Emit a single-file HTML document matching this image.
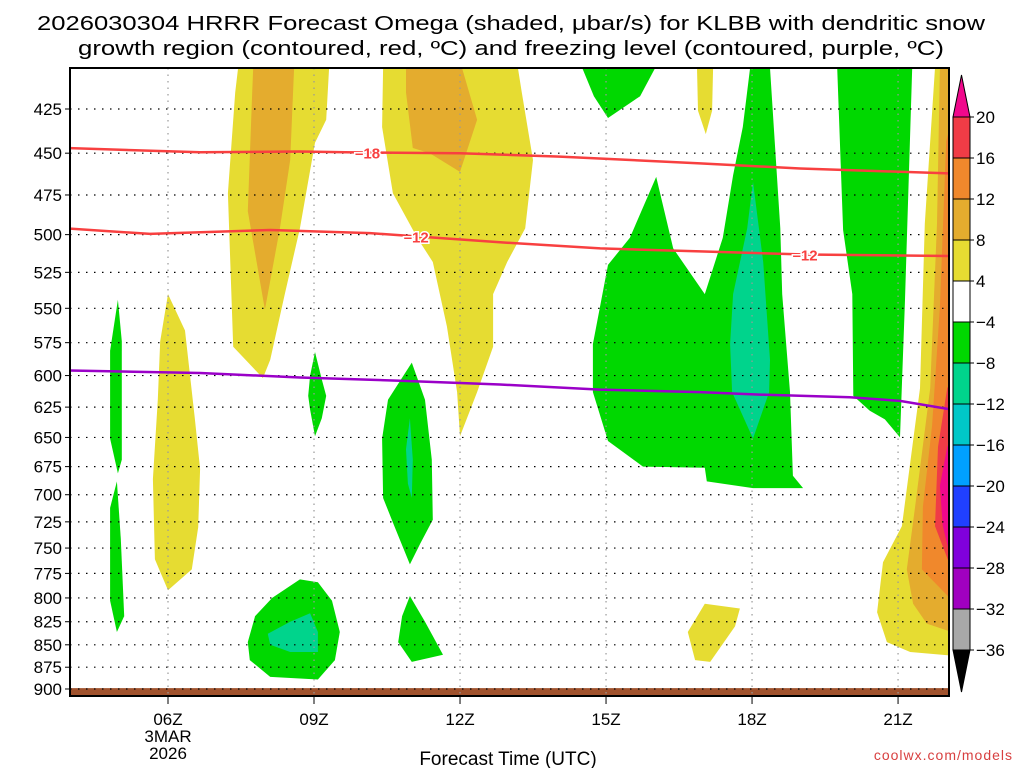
<!DOCTYPE html>
<html><head><meta charset="utf-8"><style>
html,body{margin:0;padding:0;background:#fff;}
svg{display:block;font-family:"Liberation Sans",sans-serif;}
</style></head><body>
<svg id="chart" width="1024" height="768" viewBox="0 0 1024 768" xmlns="http://www.w3.org/2000/svg">
<defs><clipPath id="plotclip"><rect x="70" y="68" width="879" height="628"/></clipPath></defs>
<rect x="0" y="0" width="1024" height="768" fill="#fff"/>
<text x="511" y="30" font-size="20" text-anchor="middle" textLength="948" lengthAdjust="spacingAndGlyphs">2026030304 HRRR Forecast Omega (shaded, μbar/s) for KLBB with dendritic snow</text>
<text x="511" y="55" font-size="20" text-anchor="middle" textLength="866" lengthAdjust="spacingAndGlyphs">growth region (contoured, red, ºC) and freezing level (contoured, purple, ºC)</text>
<g id="shades" clip-path="url(#plotclip)"></g>
<g id="grid"></g>
<g id="contours" clip-path="url(#plotclip)"></g>
<rect x="70" y="68" width="879" height="628" fill="none" stroke="#000" stroke-width="2"/>
<g id="axes"></g>
<g id="cbar"></g>
<text x="508" y="765" font-size="19" text-anchor="middle">Forecast Time (UTC)</text>
<text x="1013" y="760" font-size="14" fill="#d84040" text-anchor="end" letter-spacing="1">coolwx.com/models</text>
</svg>
<script>
const pressureTicks=[425,450,475,500,525,550,575,600,625,650,675,700,725,750,775,800,825,850,875,900];
const timeTicks=[6,9,12,15,18,21];
const timeLabels=["06Z","09Z","12Z","15Z","18Z","21Z"];
const cbarLevels=[20,16,12,8,4,-4,-8,-12,-16,-20,-24,-28,-32,-36];
const cbarColors=["#f03c46","#f0882c","#e4ac2e","#e6dc32","#ffffff","#00d800","#00d48c","#00c8c8","#00a0ff","#2040ff","#8000dc","#a000c0","#a8a8a8"];
// shaded omega regions: [hour, hPa]
const yellowA=[[7.44,403],[9.31,403],[9.25,431],[9.02,444],[8.71,496],[8.40,540],[8.10,588],[7.95,602],[7.34,578],[7.23,474],[7.38,416]];
const orangeA=[[7.75,403],[8.59,403],[8.51,454],[8.30,496],[7.99,551],[7.64,485],[7.73,416]];
const yellowB=[[10.42,403],[13.19,403],[13.27,416],[13.50,454],[13.34,496],[12.97,518],[12.68,540],[12.68,578],[12.35,613],[12.0,649],[11.94,613],[11.73,563],[11.44,518],[11.12,502],[10.62,474],[10.40,435]];
const orangeB=[[10.89,403],[12.04,403],[12.35,431],[12.0,461],[11.38,450],[11.03,447],[10.89,416]];
const green9=[[9.02,582],[9.16,603],[9.25,616],[9.16,634],[9.02,649],[8.92,627],[8.88,616],[8.92,600]];
const greenC=[[11.01,590],[11.28,619],[11.42,669],[11.44,723],[11.18,746],[10.97,766],[10.66,730],[10.42,703],[10.40,651],[10.52,619]];
const tealC=[[10.97,634],[11.03,669],[11.01,703],[10.93,690],[10.89,660]];
const yellowD=[[6.0,540],[6.35,566],[6.55,634],[6.66,677],[6.62,730],[6.49,771],[6.0,792],[5.73,761],[5.69,686],[5.79,619],[5.84,574]];
const greenE1=[[4.97,544],[5.05,574],[5.05,669],[4.97,681],[4.81,651],[4.81,581]];
const greenE2=[[4.95,688],[5.03,741],[5.10,819],[4.95,836],[4.81,803],[4.81,712]];
const greenF=[[8.71,781],[9.08,784],[9.37,803],[9.53,836],[9.43,867],[9.08,889],[8.10,886],[7.68,867],[7.64,847],[7.79,819],[8.14,800]];
const tealF=[[8.92,816],[9.08,836],[9.08,858],[8.51,858],[8.10,850],[8.05,838],[8.51,825]];
const greenG=[[10.97,798],[11.28,825],[11.65,861],[11.01,869],[10.73,847],[10.81,819]];
const greenH=[[14.51,403],[16.01,403],[15.70,418],[15.04,430],[14.75,418]];
const yellowT=[[16.87,403],[17.20,403],[17.18,426],[17.05,439],[16.89,426]];
const greenI=[[17.96,403],[18.37,403],[18.58,496],[18.62,540],[18.78,613],[18.84,683],[19.05,694],[18.02,694],[17.07,688],[17.03,676],[15.76,675],[15.04,653],[14.73,613],[14.73,576],[15.04,520],[15.49,502],[16.03,464],[16.38,509],[17.03,540],[17.40,502],[17.61,463],[17.81,435]];
const tealI=[[18.02,467],[18.23,518],[18.37,588],[18.35,613],[18.02,651],[17.59,613],[17.55,576],[17.61,540],[17.90,496]];
const yellowBot=[[17.03,806],[17.75,811],[17.65,830],[17.14,869],[16.83,867],[16.68,836]];
const greenJ=[[19.75,403],[21.29,403],[21.14,546],[21.04,650],[20.73,635],[20.42,628],[20.08,616],[20.06,540],[19.87,497]];
const yellowK=[[21.76,403],[22.1,403],[22.1,862],[21.25,858],[20.77,847],[20.57,815],[20.69,764],[21.08,729],[21.45,610],[21.55,493]];
const lorangeK=[[21.86,403],[22.1,403],[22.1,836],[21.59,827],[21.31,806],[21.18,771],[21.35,711],[21.66,610],[21.80,493]];
const orangeK=[[22.1,431],[21.99,443],[21.86,549],[21.70,640],[21.51,711],[21.49,771],[22.1,802]];
const redK=[[22.1,603],[22.01,610],[21.82,658],[21.76,729],[22.1,771]];
const magK=[[22.1,651],[22.01,658],[21.86,692],[21.92,729],[22.1,764]];
// contours
const t18Hours=[3.9,6.66,8.71,9.64,12.0,14.05,16.93,18.99,22.1];
const t18Press=[447,449.5,449,449.5,450,452,456,459,462];
const t12Hours=[3.9,5.63,8.10,10.15,12.82,14.88,16.93,19.09,22.1];
const t12Press=[496,499.5,497,499,505,509,511,513,514];
const frzHours=[3.9,6.66,8.71,10.77,12.82,14.88,16.93,18.16,20.01,21.04,22.1];
const frzPress=[596,598,601.5,604,607,611,613,615,617,620,627];
const contourLabels=[["-18",10.1,"t18"],["-12",11.1,"t12"],["-12",19.09,"t12"]];

const NS="http://www.w3.org/2000/svg";
function X(h){return 168+(h-6)*48.67;}
function Y(p){return 109+773*Math.log(p/425);}
function mk(tag,attrs,parent){const e=document.createElementNS(NS,tag);for(const k in attrs)e.setAttribute(k,attrs[k]);parent.appendChild(e);return e;}
const shades=document.getElementById('shades');
const polys=[
 [yellowA,"#e6dc32","yellow-plume-a"],[orangeA,"#e4ac2e","orange-plume-a"],
 [yellowB,"#e6dc32","yellow-plume-b"],[orangeB,"#e4ac2e","orange-plume-b"],
 [green9,"#00d800","green-cell-09z"],[greenC,"#00d800","green-cell-11z"],[tealC,"#00d48c","teal-cell-11z"],
 [yellowD,"#e6dc32","yellow-plume-06z"],[greenE1,"#00d800","green-strip-upper"],[greenE2,"#00d800","green-strip-lower"],
 [greenF,"#00d800","green-cell-low-08z"],[tealF,"#00d48c","teal-cell-low-08z"],[greenG,"#00d800","green-cell-low-11z"],
 [greenH,"#00d800","green-top-15z"],[yellowT,"#e6dc32","yellow-top-17z"],[greenI,"#00d800","green-region-16z-18z"],
 [tealI,"#00d48c","teal-region-18z"],[yellowBot,"#e6dc32","yellow-low-17z"],[greenJ,"#00d800","green-region-20z"],
 [yellowK,"#e6dc32","yellow-region-22z"],[lorangeK,"#e4ac2e","light-orange-region-22z"],[orangeK,"#f0882c","orange-region-22z"],
 [redK,"#f03c46","red-region-22z"],[magK,"#f0088c","magenta-region-22z"]];
polys.forEach(([pts,col,name])=>{
 const e=mk('polygon',{points:pts.map(q=>X(q[0]).toFixed(1)+","+Y(q[1]).toFixed(1)).join(" "),fill:col},shades);
 
 
});
const ground=mk('rect',{x:70,y:Y(899),width:879,height:696-Y(899),fill:"#a0522d"},shades);



const grid=document.getElementById('grid'), axes=document.getElementById('axes');
pressureTicks.forEach(p=>{
 const y=Y(p);
 const g=mk('line',{x1:70,x2:949,y1:y,y2:y,stroke:"#000","stroke-width":1.2,"stroke-dasharray":"1.5 6.5"},grid);
 
 
 mk('line',{x1:65,x2:70,y1:y,y2:y,stroke:"#000","stroke-width":1},axes);
 const t=mk('text',{x:62,y:y+6,"font-size":17,"text-anchor":"end"},axes);
 t.textContent=p;
 
 
});
timeTicks.forEach((h,i)=>{
 const x=X(h);
 const g=mk('line',{x1:x,x2:x,y1:68,y2:696,stroke:"#999","stroke-width":1.2,"stroke-dasharray":"1.5 5"},grid);
 
 
 mk('line',{x1:x,x2:x,y1:696,y2:704,stroke:"#000","stroke-width":1},axes);
 const t=mk('text',{x:x,y:725,"font-size":17,"text-anchor":"middle"},axes);
 t.textContent=timeLabels[i];
 
 
});
const d1=mk('text',{x:X(6),y:742,"font-size":17,"text-anchor":"middle"},axes);d1.textContent="3MAR";


const d2=mk('text',{x:X(6),y:759,"font-size":17,"text-anchor":"middle"},axes);d2.textContent="2026";



const cont=document.getElementById('contours');
function line(hs,ps,col,name){
 const e=mk('polyline',{points:hs.map((h,i)=>X(h).toFixed(1)+","+Y(ps[i]).toFixed(1)).join(" "),fill:"none",stroke:col,"stroke-width":2.5},cont);
 
 
}
function interp(hs,ps,h){for(let i=0;i<hs.length-1;i++){if(h>=hs[i]&&h<=hs[i+1]){const f=(h-hs[i])/(hs[i+1]-hs[i]);return ps[i]+f*(ps[i+1]-ps[i]);}}return ps[0];}
line(t18Hours,t18Press,"#f84040","contour-minus18");
line(t12Hours,t12Press,"#f84040","contour-minus12");
line(frzHours,frzPress,"#9a00c8","freezing-level-line");
contourLabels.forEach(([lab,h,which])=>{
 const p=which==="t18"?interp(t18Hours,t18Press,h):interp(t12Hours,t12Press,h);
 const x=X(h),y=Y(p);
 mk('rect',{x:x-16,y:y-8,width:32,height:16,fill:"#fff","fill-opacity":0},cont);
 const t=mk('text',{x:x,y:y+6,"font-size":15,"font-weight":"bold",fill:"#f84040","text-anchor":"middle",stroke:"#fff","stroke-width":3,"paint-order":"stroke"},cont);
 t.textContent="\u2013"+lab.slice(1);
 
 
});

const cb=document.getElementById('cbar');
const cbTop=117, step=41, cx=953, cw=17;
const tri1=mk('polygon',{points:`${cx},${cbTop} ${cx+cw},${cbTop} ${cx+cw/2},${cbTop-42}`,fill:"#f0088c",stroke:"#000","stroke-width":1},cb);


cbarColors.forEach((c,i)=>{
 const r=mk('rect',{x:cx,y:cbTop+i*step,width:cw,height:step,fill:c,stroke:"#000","stroke-width":1},cb);
 
 
});
const bot=cbTop+cbarColors.length*step;
const tri2=mk('polygon',{points:`${cx},${bot} ${cx+cw},${bot} ${cx+cw/2},${bot+42}`,fill:"#000",stroke:"#000","stroke-width":1},cb);


cbarLevels.forEach((v,i)=>{
 const y=cbTop+i*step;
 mk('line',{x1:cx+cw,x2:cx+cw+4,y1:y,y2:y,stroke:"#000"},cb);
 const t=mk('text',{x:976,y:y+6,"font-size":17},cb);
 t.textContent=v<0?"\u2212"+(-v):String(v);
 
 
});
</script>
</body></html>
